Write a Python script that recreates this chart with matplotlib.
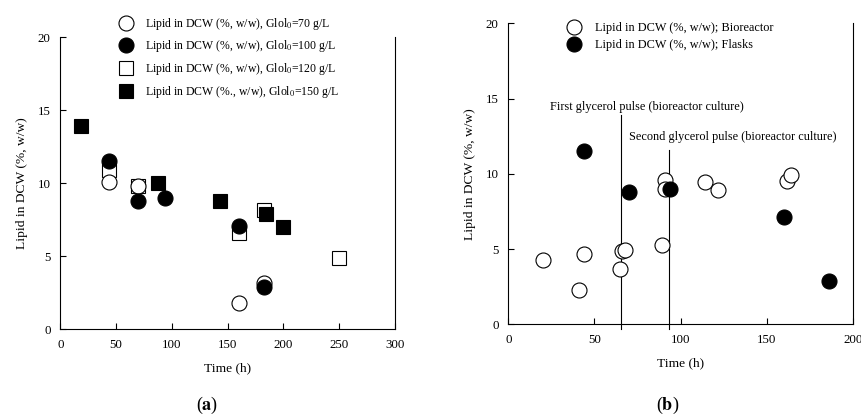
import matplotlib
matplotlib.use("Agg")
import matplotlib.pyplot as plt

plt.rcParams['font.family'] = ['Liberation Serif', 'DejaVu Serif']
plt.rcParams['mathtext.fontset'] = 'stix'

# panel (a): lipid content at different initial glycerol concentrations
t70 = [44, 70, 160, 183]
lip70 = [10.1, 9.8, 1.8, 3.2]
t100 = [44, 70, 94, 160, 183]
lip100 = [11.5, 8.8, 9.0, 7.1, 2.9]
t120 = [44, 70, 160, 183, 250]
lip120 = [10.9, 9.8, 6.6, 8.2, 4.9]
t150 = [19, 88, 143, 184, 200]
lip150 = [13.9, 10.0, 8.8, 7.9, 7.0]

# panel (b): bioreactor vs flasks
t_bio = [20, 41, 44, 65, 66, 68, 89, 91, 91, 114, 122, 162, 164]
lip_bio = [4.3, 2.3, 4.7, 3.7, 4.85, 4.95, 5.3, 9.6, 9.0, 9.45, 8.9, 9.5, 9.9]
t_flask = [44, 70, 94, 160, 186]
lip_flask = [11.5, 8.8, 9.0, 7.1, 2.9]

pulse_t = [65.5, 93.5]
pulse_top = [13.9, 11.55]

fig = plt.figure(figsize=(8.61, 4.15), dpi=100)
ax1 = fig.add_axes([0.070, 0.2065, 0.3888, 0.7036])
ax2 = fig.add_axes([0.5904, 0.2186, 0.4000, 0.7253])

ms_c = 10.8
ms_s = 9.6
lw = 0.8

ax1.plot(t70, lip70, 'o', ms=ms_c, mfc='white', mec='black', mew=lw, zorder=3,
         label=r'Lipid in DCW (%, w/w), Glol$_0$=70 g/L')
ax1.plot(t100, lip100, 'o', ms=ms_c, mfc='black', mec='black', mew=lw, zorder=4,
         label=r'Lipid in DCW (%, w/w), Glol$_0$=100 g/L')
ax1.plot(t120, lip120, 's', ms=ms_s, mfc='white', mec='black', mew=lw, zorder=2,
         label=r'Lipid in DCW (%, w/w), Glol$_0$=120 g/L')
ax1.plot(t150, lip150, 's', ms=ms_s, mfc='black', mec='black', mew=lw, zorder=5,
         label=r'Lipid in DCW (%., w/w), Glol$_0$=150 g/L')

ax2.plot(t_bio, lip_bio, 'o', ms=ms_c, mfc='white', mec='black', mew=lw, zorder=3,
         label='Lipid in DCW (%, w/w); Bioreactor')
ax2.plot(t_flask, lip_flask, 'o', ms=ms_c, mfc='black', mec='black', mew=lw, zorder=4,
         label='Lipid in DCW (%, w/w); Flasks')

for x, top in zip(pulse_t, pulse_top):
    ax2.plot([x, x], [-0.3, top], color='black', lw=0.8, clip_on=False, zorder=2)
ax2.text(24.2, 14.42, 'First glycerol pulse (bioreactor culture)', fontsize=8.8,
         ha='left', va='center')
ax2.text(70.1, 12.47, 'Second glycerol pulse (bioreactor culture)', fontsize=8.8,
         ha='left', va='center')

ax1.set_xlim(0, 300)
ax1.set_xticks([0, 50, 100, 150, 200, 250, 300])
ax2.set_xlim(0, 200)
ax2.set_xticks([0, 50, 100, 150, 200])

for ax in (ax1, ax2):
    ax.set_ylim(0, 20)
    ax.set_yticks([0, 5, 10, 15, 20])
    ax.spines['top'].set_visible(False)
    for s in ax.spines.values():
        s.set_linewidth(0.8)
    ax.tick_params(direction='in', length=4.5, width=0.8, labelsize=9.3, pad=7)
    ax.set_xlabel('Time (h)', fontsize=9.7, labelpad=8)
    ax.set_ylabel('Lipid in DCW (%, w/w)', fontsize=9.7, labelpad=7)

ax1.legend(loc='upper left', bbox_to_anchor=(0.1311, 0.976), bbox_transform=fig.transFigure,
           frameon=False, fontsize=8.5, borderpad=0, handlelength=1.2,
           handletextpad=1.0, labelspacing=0.56)
ax2.legend(loc='upper left', bbox_to_anchor=(0.6518, 0.962), bbox_transform=fig.transFigure,
           frameon=False, fontsize=8.8, borderpad=0, handlelength=1.15,
           handletextpad=1.15, labelspacing=0.42)

fig.text(207 / 861, 1 - 405 / 415, r'($\mathbf{a}$)', fontsize=13, ha='center', va='center')
fig.text(668 / 861, 1 - 405 / 415, r'($\mathbf{b}$)', fontsize=13, ha='center', va='center')

fig.savefig('out.png', dpi=100)
